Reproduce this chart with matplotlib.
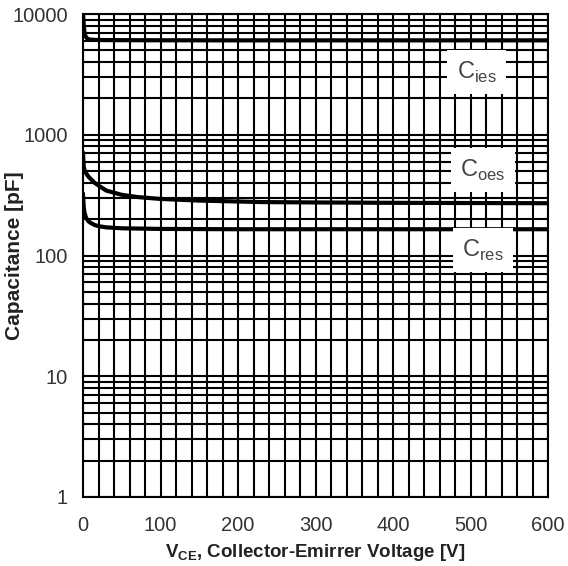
import matplotlib
matplotlib.use("Agg")
import matplotlib.pyplot as plt
import numpy as np
from matplotlib.ticker import FixedLocator, LogLocator, NullFormatter

plt.rcParams['font.family'] = ['Liberation Sans', 'DejaVu Sans']

vce_ies = [0, 0.5, 1, 2, 3, 5, 8, 15, 30, 100, 200, 300, 400, 500, 600]
cies = [10500, 9000, 8000, 7000, 6600, 6300, 6150, 6100, 6080, 6060, 6050, 6050, 6050, 6050, 6050]
vce_oes = [0, 1, 2, 4, 7, 10, 15, 20, 30, 50, 70, 100, 150, 230, 300, 400, 500, 600]
coes = [700, 540, 510, 480, 450, 430, 400, 380, 345, 318, 305, 294, 285, 277, 275, 273, 272, 271]
vce_res = [0, 1, 2, 4, 7, 10, 15, 20, 30, 50, 100, 200, 300, 400, 500, 600]
cres = [320, 250, 225, 205, 192, 186, 179, 175, 171, 168, 166, 165, 165, 165, 165, 165]

labels = ["C$_{\\mathregular{ies}}$", "C$_{\\mathregular{oes}}$", "C$_{\\mathregular{res}}$"]
label_x = [508, 516, 516]
label_y = [3300, 510, 111]
yticks = [1, 10, 100, 1000, 10000]
xticks = [0, 100, 200, 300, 400, 500, 600]

fig = plt.figure(figsize=(5.68, 5.66), dpi=100)
ax = fig.add_axes([83/568, 69/566, 465/568, 483/566])
ax.set_yscale('log')
ax.set_xlim(0, 600)
ax.set_ylim(1, 10000)

ax.xaxis.set_major_locator(FixedLocator(xticks))
ax.xaxis.set_minor_locator(FixedLocator(np.arange(0, 601, 20)))
ax.yaxis.set_major_locator(FixedLocator(yticks))
ax.yaxis.set_minor_locator(LogLocator(base=10, subs=np.arange(2, 10)))
ax.yaxis.set_minor_formatter(NullFormatter())
ax.set_yticklabels([str(v) for v in yticks])
ax.grid(True, which='both', color='black', linewidth=1.5)
ax.tick_params(which='both', length=0, labelsize=14.5, colors='#333333')
ax.tick_params(axis='y', pad=11)
ax.tick_params(axis='x', pad=14)
ax.set_axisbelow(True)
for s in ax.spines.values():
    s.set_linewidth(1.5)

for v, c in ((vce_ies, cies), (vce_oes, coes), (vce_res, cres)):
    ax.plot(v, c, color='black', linewidth=3, zorder=3)

for t, x, y in zip(labels, label_x, label_y):
    ax.text(x, y, t, fontsize=17, ha='center', va='center', color='#444444', zorder=4,
            bbox=dict(facecolor='white', edgecolor='none', boxstyle='square,pad=0.4'))

ax.set_xlabel("V$_{\\mathregular{CE}}$, Collector-Emirrer Voltage [V]", fontsize=13.5, fontweight='bold', color='#222222')
ax.xaxis.set_label_coords(0.5, -(542 - 497) / 483)
ax.set_ylabel("Capacitance [pF]", fontsize=15, fontweight='bold', color='#222222')
ax.yaxis.set_label_coords((24 - 83) / 465, 0.5)

fig.savefig("out.png", dpi=100)
